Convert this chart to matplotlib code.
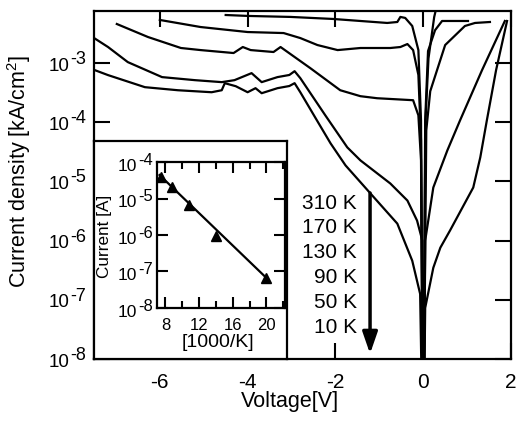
import numpy as np
import matplotlib
matplotlib.use('Agg')
import matplotlib.pyplot as plt
from matplotlib.ticker import LogLocator, NullLocator, NullFormatter, FixedLocator

plt.rcParams['font.family'] = ['Liberation Sans', 'DejaVu Sans']
plt.rcParams['mathtext.fontset'] = 'custom'
plt.rcParams['mathtext.rm'] = 'Liberation Sans'
plt.rcParams['mathtext.it'] = 'Liberation Sans:italic'
plt.rcParams['axes.unicode_minus'] = False

# I-V curves (voltage [V], current density [kA/cm^2])
v_a = [-4.5, -4.0, -3.02, -2.05, -1.43, -0.82, -0.59, -0.52, -0.41, -0.25, -0.11, -0.05, 0.0, 0.05, 0.12, 0.25, 0.32]
j_a = [6.5e-3, 6.27e-3, 6.03e-3, 5.57e-3, 5.15e-3, 4.77e-3, 4.95e-3, 6.03e-3, 5.8e-3, 4.24e-3, 1.66e-3, 1.08e-4,
       1e-10, 1e-4, 1.2e-3, 6e-3, 1e-2]

v_b = [-6.0, -5.07, -4.0, -3.18, -2.80, -2.41, -1.95, -1.43, -0.75, -0.52, -0.36, -0.23, -0.11, -0.05, 0.0,
       0.045, 0.11, 0.27, 0.43, 1.02]
j_b = [5.36e-3, 4.07e-3, 3.35e-3, 3.22e-3, 2.65e-3, 2.02e-3, 1.66e-3, 1.8e-3, 1.8e-3, 1.87e-3, 2.1e-3, 1.66e-3,
       6.3e-4, 4.95e-5, 1e-10, 1.08e-4, 1.6e-3, 3.6e-3, 5.15e-3, 5.15e-3]

v_c = [-6.98, -6.27, -5.52, -5.07, -4.32, -4.11, -3.93, -3.41, -3.25, -2.57, -1.89, -1.43, -1.05, -0.23, -0.11,
       -0.05, 0.0, 0.07, 0.16, 0.5, 0.95, 1.18, 1.52]
j_c = [4.58e-3, 2.76e-3, 1.80e-3, 1.66e-3, 1.48e-3, 1.87e-3, 1.66e-3, 1.54e-3, 1.87e-3, 8.2e-4, 3.48e-4, 2.76e-4,
       2.55e-4, 2.36e-4, 1.31e-4, 2.27e-5, 1e-10, 7.3e-5, 3.35e-4, 2.02e-3, 4.24e-3, 4.77e-3, 4.95e-3]

v_d = [-7.48, -7.18, -6.73, -5.95, -5.2, -4.59, -4.30, -3.91, -3.68, -3.32, -3.05, -2.93, -2.80, -2.23, -1.73,
       -1.43, -0.75, -0.36, -0.14, -0.02, 0.0, 0.045, 0.23, 0.55, 0.84, 1.34, 1.86]
j_d = [2.6e-3, 1.87e-3, 1.04e-3, 5.8e-4, 5.15e-4, 4.77e-4, 5.15e-4, 6.77e-4, 4.77e-4, 5.8e-4, 6.3e-4, 7.3e-4,
       5.57e-4, 1.31e-4, 3.77e-5, 2.27e-5, 9.25e-6, 4.76e-6, 2.18e-6, 1.0e-6, 1e-10, 1.0e-6, 7.9e-6, 3.35e-5,
       1.08e-4, 7.6e-4, 5.15e-3]

v_e = [-7.48, -7.18, -6.34, -5.59, -4.82, -4.59, -4.52, -4.27, -4.0, -3.82, -3.68, -3.32, -3.05, -2.93, -2.80,
       -2.45, -2.11, -1.77, -1.14, -0.59, -0.25, -0.07, 0.0, 0.045, 0.23, 0.39, 0.61, 1.14, 1.30, 1.45, 1.66, 1.91]
j_e = [7.6e-4, 6.27e-4, 3.92e-4, 3.48e-4, 3.22e-4, 3.48e-4, 4.58e-4, 4.07e-4, 3.22e-4, 3.77e-4, 3.1e-4, 3.77e-4,
       4.1e-4, 4.58e-4, 3.22e-4, 1.17e-4, 4.4e-5, 1.87e-5, 5.57e-6, 1.94e-6, 4.58e-7, 1.26e-7, 1e-10, 7.3e-8,
       3.48e-7, 7.6e-7, 1.48e-6, 7.9e-6, 2.55e-5, 1.08e-4, 7.6e-4, 5.15e-3]

temps = ['310 K', '170 K', '130 K', '90 K', '50 K', '10 K']

# inset: current vs 1000/T
inv_t = [7.5, 8.8, 10.8, 14.0, 19.9]
cur = [3.9e-5, 2.1e-5, 6.7e-6, 9.1e-7, 6.5e-8]
fit_x = [7.3, 20.1]
fit_y = [4.4e-5, 6.3e-8]


def decade_labels(axis, decades, size, x_pt, dy_m, dy_e):
    # "10" and its exponent drawn as two texts, exponent nearly full size
    exp_w = 0.889 * size
    for d in decades:
        axis.annotate('%d' % d, xy=(0, 10.0 ** d), xycoords=('axes fraction', 'data'),
                      xytext=(x_pt, dy_e), textcoords='offset points', ha='right', va='center',
                      fontsize=size, annotation_clip=False)
        axis.annotate('10', xy=(0, 10.0 ** d), xycoords=('axes fraction', 'data'),
                      xytext=(x_pt - exp_w - 0.5, dy_m), textcoords='offset points', ha='right',
                      va='center', fontsize=size + 0.5, annotation_clip=False)


fig = plt.figure(figsize=(5.17, 4.24), dpi=100)
ax = fig.add_axes([0.1818, 0.1533, 0.8066, 0.8208])

for v, j in [(v_a, j_a), (v_b, j_b), (v_c, j_c), (v_d, j_d), (v_e, j_e)]:
    ax.plot(v, j, color='black', lw=1.6)

ax.set_yscale('log')
ax.set_xlim(-7.5, 2)
ax.set_ylim(1e-8, 7.6e-3)
ax.set_xticks([-6, -4, -2, 0, 2])
ax.yaxis.set_major_locator(LogLocator(base=10, numticks=20))
ax.yaxis.set_minor_locator(NullLocator())
ax.yaxis.set_major_formatter(NullFormatter())
ax.xaxis.set_minor_locator(NullLocator())
ax.tick_params(direction='in', length=11.5, width=1.5, top=True, right=True)
ax.tick_params(axis='x', pad=10, labelsize=15)
for s in ax.spines.values():
    s.set_linewidth(1.6)
decade_labels(ax, [-8, -7, -6, -5, -4, -3], 13, -5.8, -2.2, 2.6)
ax.set_xlabel('Voltage[V]', fontsize=15.5)
ax.xaxis.set_label_coords(0.47, -0.092)
ax.set_ylabel('Current density [kA/cm$^2$]', fontsize=15.5)
ax.yaxis.set_label_coords(-0.147, 0.54)

for i, t in enumerate(temps):
    ax.text(0.631, 0.448 - i * 0.0713, t, transform=ax.transAxes, ha='right', va='center', fontsize=15)
ax.annotate('', xy=(0.662, 0.015), xytext=(0.662, 0.477), xycoords='axes fraction',
            arrowprops=dict(arrowstyle='-|>,head_length=1.3,head_width=0.45', color='black', lw=2.5,
                            shrinkA=0, shrinkB=0))

# white box that holds the inset
box = fig.add_axes([0.1818, 0.1533, 0.3733, 0.514])
box.set_xticks([])
box.set_yticks([])
for s in box.spines.values():
    s.set_linewidth(1.6)

ins = fig.add_axes([0.3037, 0.2736, 0.2476, 0.3443])
ins.plot(fit_x, fit_y, color='black', lw=1.6)
ins.plot(inv_t, cur, '^', color='black', ms=7.5)
ins.set_yscale('log')
ins.set_xlim(7.0, 22.2)
ins.set_ylim(1e-8, 1e-4)
ins.xaxis.set_major_locator(FixedLocator([8, 12, 16, 20]))
ins.xaxis.set_minor_locator(FixedLocator([10, 14, 18, 22]))
ins.yaxis.set_major_locator(LogLocator(base=10, numticks=10))
ins.yaxis.set_minor_locator(NullLocator())
ins.yaxis.set_major_formatter(NullFormatter())
ins.tick_params(which='both', direction='in', top=True, right=True, width=1.5)
ins.tick_params(which='major', length=8)
ins.tick_params(which='minor', length=5)
ins.tick_params(axis='x', pad=7, labelsize=12)
for s in ins.spines.values():
    s.set_linewidth(1.6)
decade_labels(ins, [-8, -7, -6, -5, -4], 12, -2.9, -3.0, 1.3)
ins.set_xlabel('[1000/K]', fontsize=14)
ins.xaxis.set_label_coords(0.473, -0.178)
ins.set_ylabel('Current [A]', fontsize=12.3)
ins.yaxis.set_label_coords(-0.352, 0.49)

fig.savefig('out.png', dpi=100)
